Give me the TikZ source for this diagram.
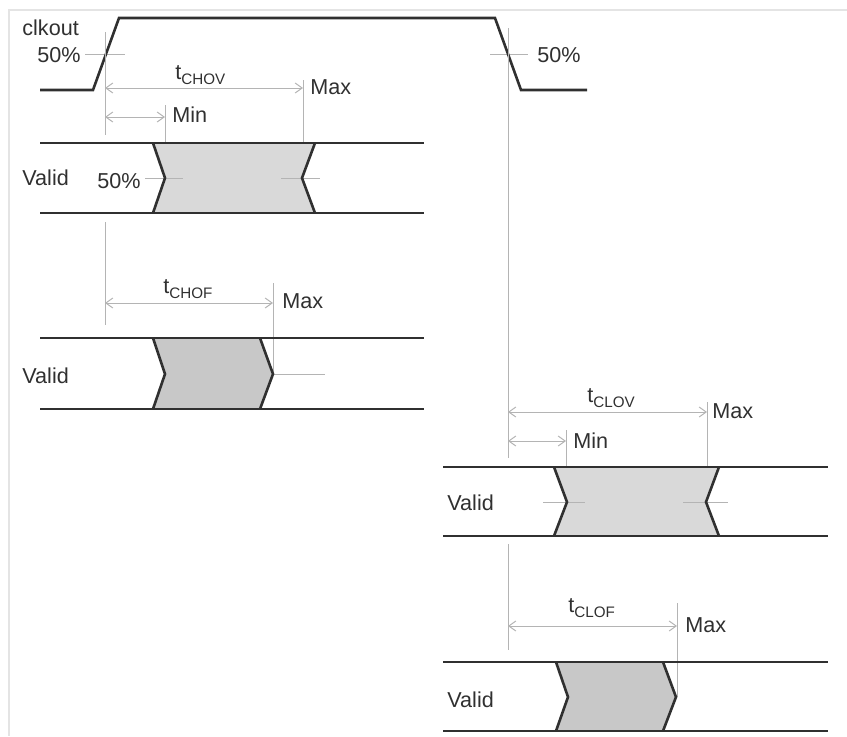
\documentclass[tikz,border=0pt]{standalone}
\usepackage{fontspec}
\setmainfont{Liberation Sans}
\usetikzlibrary{arrows.meta}
\definecolor{ink}{HTML}{303030}
\definecolor{guidec}{HTML}{B4B4B4}
\definecolor{fillA}{HTML}{D9D9D9}
\definecolor{fillB}{HTML}{C8C8C8}
\definecolor{framec}{HTML}{E4E4E4}
\newcommand{\tsubscr}[1]{t\raisebox{-2.5pt}{\fontsize{7.6}{8}\selectfont #1}}
\begin{document}
\begin{tikzpicture}[x=0.5pt,y=-0.5pt,
  sig/.style={draw=ink,line width=1.3pt,line join=miter},
  guide/.style={draw=guidec,line width=0.5pt},
  dimline/.style={guide,{Straight Barb[length=3.5pt,width=5pt]}-{Straight Barb[length=3.5pt,width=5pt]}},
  lbl/.style={inner sep=0pt,anchor=base west,text=ink,font=\fontsize{10.8}{12}\selectfont}]
\useasboundingbox (0,0) rectangle (847,736);
% faint frame
\draw[framec,line width=1pt] (9,736) -- (9,10) -- (847,10);

% ---------- clock ----------
\coordinate (c0) at (40,90);
\coordinate (c1) at (93,90);
\coordinate (c2) at (119,18);
\coordinate (c3) at (495,18);
\coordinate (c4) at (521,90);
\coordinate (c5) at (587,90);
\draw[guide] (85,54) -- (125,54);
\draw[guide] (490,54) -- (528,54);
\draw[sig] (c0) -- (c1) -- (c2) -- (c3) -- (c4) -- (c5);

% reference verticals
\draw[guide] (105,32) -- (105,135);
\draw[guide] (105,222) -- (105,325);
\draw[guide] (508,28) -- (508,458);
\draw[guide] (508,544) -- (508,650);

% ---------- row 1 : tCHOV ----------
\coordinate (r1a) at (105,88);  \coordinate (r1b) at (303,88);
\coordinate (r1c) at (105,117); \coordinate (r1d) at (165,117);
\draw[dimline] (r1a) -- (r1b);
\draw[dimline] (r1c) -- (r1d);
\draw[guide] (303,80) -- (303,143);
\draw[guide] (165,105) -- (165,143);
\coordinate (a1) at (153,143); \coordinate (a2) at (165,178); \coordinate (a3) at (153,213);
\coordinate (b1) at (315,143); \coordinate (b2) at (302,178); \coordinate (b3) at (315,213);
\fill[fillA] (a1) -- (b1) -- (b2) -- (b3) -- (a3) -- (a2) -- cycle;
\draw[guide] (145,178) -- (183,178);
\draw[guide] (281,178) -- (320,178);
\draw[sig] (40,143) -- (424,143);
\draw[sig] (40,213) -- (424,213);
\draw[sig] (a1) -- (a2) -- (a3);
\draw[sig] (b1) -- (b2) -- (b3);

% ---------- row 2 : tCHOF ----------
\coordinate (r2a) at (105,303); \coordinate (r2b) at (273,303);
\draw[dimline] (r2a) -- (r2b);
\draw[guide] (273,283) -- (273,374);
\coordinate (d1) at (153,338); \coordinate (d2) at (165,374); \coordinate (d3) at (153,409);
\coordinate (e1) at (260,338); \coordinate (e2) at (273,374); \coordinate (e3) at (260,409);
\fill[fillB] (d1) -- (e1) -- (e2) -- (e3) -- (d3) -- (d2) -- cycle;
\draw[guide] (e2) -- (325,374);
\draw[sig] (40,338) -- (424,338);
\draw[sig] (40,409) -- (424,409);
\draw[sig] (d1) -- (d2) -- (d3);
\draw[sig] (e1) -- (e2) -- (e3);

% ---------- row 3 : tCLOV ----------
\coordinate (r3a) at (508,412); \coordinate (r3b) at (707,412);
\coordinate (r3c) at (508,441); \coordinate (r3d) at (566,441);
\draw[dimline] (r3a) -- (r3b);
\draw[dimline] (r3c) -- (r3d);
\draw[guide] (707,402) -- (707,467);
\draw[guide] (566,430) -- (566,467);
\coordinate (f1) at (554,467); \coordinate (f2) at (567,502); \coordinate (f3) at (554,536);
\coordinate (g1) at (719,467); \coordinate (g2) at (706,502); \coordinate (g3) at (719,536);
\fill[fillA] (f1) -- (g1) -- (g2) -- (g3) -- (f3) -- (f2) -- cycle;
\draw[guide] (543,502) -- (585,502);
\draw[guide] (683,502) -- (728,502);
\draw[sig] (443,467) -- (828,467);
\draw[sig] (443,536) -- (828,536);
\draw[sig] (f1) -- (f2) -- (f3);
\draw[sig] (g1) -- (g2) -- (g3);

% ---------- row 4 : tCLOF ----------
\coordinate (r4a) at (508,626); \coordinate (r4b) at (677,626);
\draw[dimline] (r4a) -- (r4b);
\draw[guide] (677,603) -- (677,697);
\coordinate (h1) at (556,662); \coordinate (h2) at (568,697); \coordinate (h3) at (556,731);
\coordinate (k1) at (663,662); \coordinate (k2) at (676,697); \coordinate (k3) at (663,731);
\fill[fillB] (h1) -- (k1) -- (k2) -- (k3) -- (h3) -- (h2) -- cycle;
\draw[sig] (443,662) -- (828,662);
\draw[sig] (443,731) -- (828,731);
\draw[sig] (h1) -- (h2) -- (h3);
\draw[sig] (k1) -- (k2) -- (k3);

% ---------- labels ----------
\node[lbl] (lclk) at (22,35) {clkout};
\node[lbl] (lp1) at (37,62) {50\%};
\node[lbl] (lp2) at (537,62) {50\%};
\node[lbl] (lchov) at (175,79) {\tsubscr{CHOV}};
\node[lbl] (lmax1) at (310,94) {Max};
\node[lbl] (lmin1) at (172,122) {Min};
\node[lbl] (lv1) at (22,185) {Valid};
\node[lbl] (lp3) at (97,188) {50\%};
\node[lbl] (lchof) at (163,293) {\tsubscr{CHOF}};
\node[lbl] (lmax2) at (282,308) {Max};
\node[lbl] (lv2) at (22,383) {Valid};
\node[lbl] (lclov) at (587,402) {\tsubscr{CLOV}};
\node[lbl] (lmax3) at (712,418) {Max};
\node[lbl] (lmin3) at (573,448) {Min};
\node[lbl] (lv3) at (447,510) {Valid};
\node[lbl] (lclof) at (568,612) {\tsubscr{CLOF}};
\node[lbl] (lmax4) at (685,632) {Max};
\node[lbl] (lv4) at (447,707) {Valid};
\end{tikzpicture}
\end{document}
